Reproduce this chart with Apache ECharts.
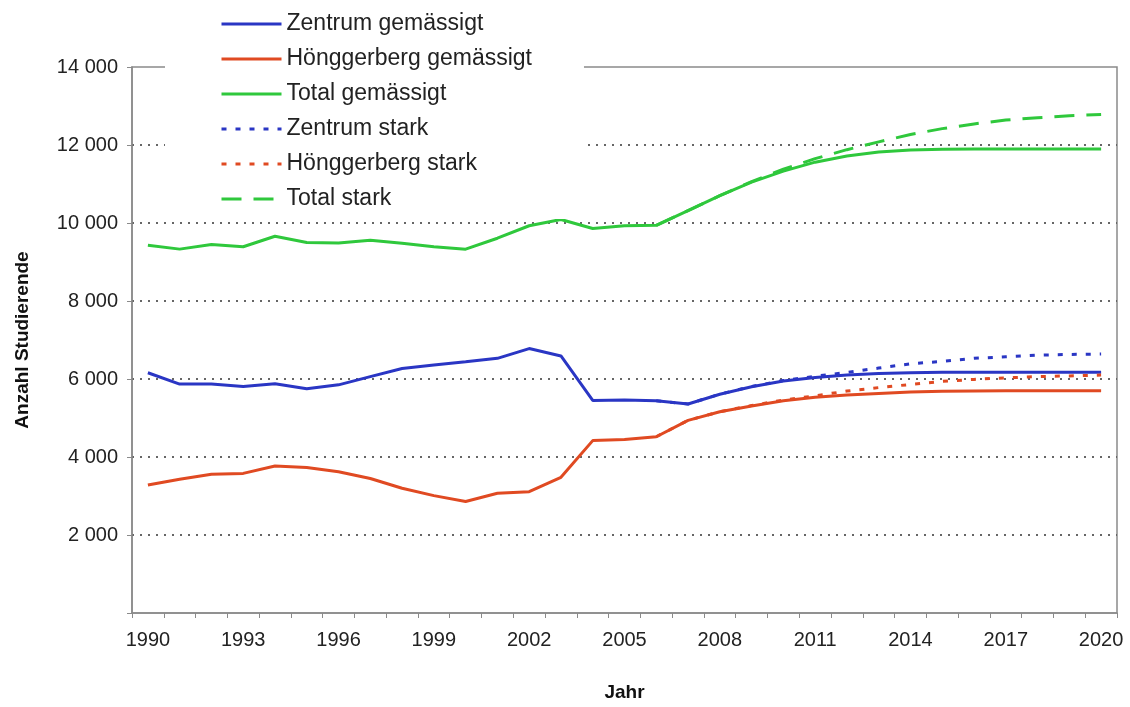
<!DOCTYPE html>
<html>
<head>
<meta charset="utf-8">
<title>Anzahl Studierende</title>
<script src="https://cdn.jsdelivr.net/npm/echarts@6/dist/echarts.min.js"></script>
<style>
  html, body { margin: 0; padding: 0; background: #fff; }
  #chart { width: 1130px; height: 707px; }
</style>
</head>
<body>
<div id="chart"></div>
<script>
// Jahre 1990 - 2020
const years = ['1990', '1991', '1992', '1993', '1994', '1995', '1996', '1997', '1998', '1999',
  '2000', '2001', '2002', '2003', '2004', '2005', '2006', '2007', '2008', '2009',
  '2010', '2011', '2012', '2013', '2014', '2015', '2016', '2017', '2018', '2019', '2020'];

const zentrumGem = [6160, 5870, 5870, 5810, 5880, 5750, 5850, 6060, 6270, 6360,
  6440, 6530, 6780, 6590, 5450, 5460, 5440, 5360, 5610, 5800,
  5950, 6040, 6100, 6140, 6160, 6170, 6175, 6175, 6175, 6175, 6175];

const hoenggGem = [3280, 3430, 3560, 3580, 3770, 3730, 3620, 3450, 3200, 3010,
  2860, 3070, 3110, 3480, 4420, 4450, 4520, 4940, 5160, 5310,
  5440, 5530, 5590, 5630, 5665, 5685, 5695, 5700, 5700, 5700, 5700];

const totalGem = [9430, 9330, 9450, 9390, 9660, 9500, 9490, 9560, 9480, 9390,
  9330, 9610, 9930, 10090, 9860, 9930, 9940, 10320, 10700, 11050,
  11330, 11560, 11720, 11820, 11870, 11890, 11900, 11900, 11900, 11900, 11900];

// Szenario stark (ab 2006)
const zentrumStark = [null, null, null, null, null, null, null, null, null, null,
  null, null, null, null, null, null, 5440, 5360, 5610, 5810,
  5960, 6070, 6170, 6280, 6390, 6450, 6530, 6570, 6610, 6630, 6640];

const hoenggStark = [null, null, null, null, null, null, null, null, null, null,
  null, null, null, null, null, null, 4520, 4940, 5160, 5320,
  5460, 5570, 5690, 5780, 5860, 5940, 5990, 6030, 6060, 6080, 6100];

const totalStark = [null, null, null, null, null, null, null, null, null, null,
  null, null, null, null, null, null, 9940, 10320, 10700, 11060,
  11380, 11650, 11880, 12080, 12270, 12420, 12540, 12640, 12700, 12750, 12780];

const yTicks = { min: 0, max: 14000, step: 2000 };

const BLUE = '#2a36c4';
const RED = '#e04a22';
const GREEN = '#2fc83c';

const chart = echarts.init(document.getElementById('chart'));

const fmt = v => v === 0 ? '' : String(v).replace(/\B(?=(\d{3})+(?!\d))/g, ' ');

const lineSeries = (name, data, color, type) => ({
  name: name,
  type: 'line',
  data: data,
  symbol: 'none',
  smooth: false,
  connectNulls: false,
  lineStyle: { color: color, width: 3, type: type },
  itemStyle: { color: color },
  z: type === 'solid' ? 3 : 4
});

const option = {
  backgroundColor: '#fff',
  animation: false,
  textStyle: { fontFamily: '"Liberation Sans", Arial, sans-serif' },
  grid: {
    left: 132,
    right: 13,
    top: 67,
    bottom: 94,
    show: true,
    borderColor: '#8a8a8a',
    borderWidth: 1.5
  },
  legend: {
    orient: 'vertical',
    left: 165,
    top: 0,
    padding: [12, 52, 8, 55],
    backgroundColor: '#fff',
    itemWidth: 60,
    itemHeight: 14,
    itemGap: 11,
    itemStyle: { opacity: 0 },
    lineStyle: { width: 3 },
    textStyle: { fontSize: 23, color: '#222', lineHeight: 24 },
    data: ['Zentrum gemässigt', 'Hönggerberg gemässigt', 'Total gemässigt',
      'Zentrum stark', 'Hönggerberg stark', 'Total stark']
  },
  xAxis: {
    type: 'category',
    data: years,
    boundaryGap: true,
    name: 'Jahr',
    nameLocation: 'middle',
    nameGap: 70,
    nameTextStyle: { fontSize: 19, fontWeight: 'bold', color: '#111' },
    axisLine: { lineStyle: { color: '#8a8a8a', width: 1.5 } },
    axisTick: { show: true, interval: 0, length: 5, lineStyle: { color: '#8a8a8a' } },
    axisLabel: { interval: 2, fontSize: 20, color: '#222', margin: 17 },
    splitLine: { show: false }
  },
  yAxis: {
    type: 'value',
    min: yTicks.min,
    max: yTicks.max,
    interval: yTicks.step,
    name: 'Anzahl Studierende',
    nameLocation: 'middle',
    nameGap: 100,
    nameTextStyle: { fontSize: 19, fontWeight: 'bold', color: '#111' },
    axisLine: { show: true, lineStyle: { color: '#8a8a8a', width: 1.5 } },
    axisTick: { show: true, length: 5, lineStyle: { color: '#8a8a8a' } },
    axisLabel: { fontSize: 20, color: '#222', margin: 14, formatter: fmt },
    splitLine: {
      show: true,
      showMinLine: false,
      showMaxLine: false,
      lineStyle: { color: '#666', width: 2, type: [2, 6] }
    }
  },
  series: [
    lineSeries('Zentrum gemässigt', zentrumGem, BLUE, 'solid'),
    lineSeries('Hönggerberg gemässigt', hoenggGem, RED, 'solid'),
    lineSeries('Total gemässigt', totalGem, GREEN, 'solid'),
    lineSeries('Zentrum stark', zentrumStark, BLUE, [5, 9]),
    lineSeries('Hönggerberg stark', hoenggStark, RED, [5, 9]),
    lineSeries('Total stark', totalStark, GREEN, [20, 12])
  ]
};

chart.setOption(option);
</script>
</body>
</html>
